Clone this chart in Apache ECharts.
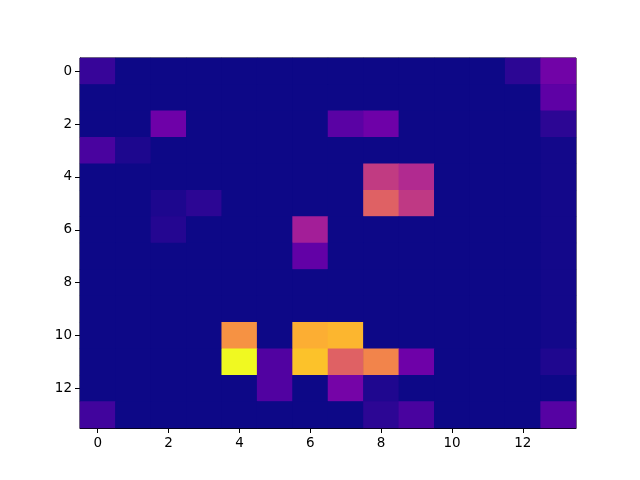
<!DOCTYPE html>
<html>
<head>
<meta charset="utf-8">
<script src="https://cdn.jsdelivr.net/npm/echarts@6/dist/echarts.min.js"></script>
<style>html,body{margin:0;padding:0;background:#fff;}#chart{width:640px;height:480px;}</style>
</head>
<body>
<div id="chart"></div>
<script>
var xCategories = ['0','1','2','3','4','5','6','7','8','9','10','11','12','13'];
var yCategories = ['0','1','2','3','4','5','6','7','8','9','10','11','12','13'];
// values[row][col], normalized 0..1
var row0  = [0.08,0,0,0,0,0,0,0,0,0,0,0,0.06,0.22];
var row1  = [0,0,0,0,0,0,0,0,0,0,0,0,0,0.17];
var row2  = [0,0,0.21,0,0,0,0,0.16,0.21,0,0,0,0,0.06];
var row3  = [0.12,0.03,0,0,0,0,0,0,0,0,0,0,0,0.012];
var row4  = [0,0,0,0,0,0,0,0,0.46,0.40,0,0,0,0.012];
var row5  = [0,0,0.03,0.06,0,0,0,0,0.59,0.45,0,0,0,0.012];
var row6  = [0,0,0.045,0,0,0,0.36,0,0,0,0,0,0,0.012];
var row7  = [0,0,0,0,0,0,0.18,0,0,0,0,0,0,0.012];
var row8  = [0,0,0,0,0,0,0,0,0,0,0,0,0,0.012];
var row9  = [0,0,0,0,0,0,0,0,0,0,0,0,0,0.012];
var row10 = [0,0,0,0,0.74,0,0.82,0.84,0,0,0,0,0,0.012];
var row11 = [0,0,0,0,1.0,0.14,0.87,0.59,0.70,0.21,0,0,0,0.035];
var row12 = [0,0,0,0,0,0.14,0,0.23,0.035,0,0,0,0,0];
var row13 = [0.10,0,0,0,0,0,0,0,0.06,0.12,0,0,0,0.15];
var values = [row0,row1,row2,row3,row4,row5,row6,row7,row8,row9,row10,row11,row12,row13];
var tickLabels = ['0','2','4','6','8','10','12'];

var data = [];
for (var r = 0; r < values.length; r++) {
  for (var c = 0; c < values[r].length; c++) {
    data.push([c, r, values[r][c]]);
  }
}
var showTick = function (i) { return tickLabels.indexOf(String(i)) >= 0; };
var chart = echarts.init(document.getElementById('chart'), null, {renderer: 'canvas'});
var axisCommon = {
  type: 'category',
  boundaryGap: true,
  axisLine: {show: true, lineStyle: {color: '#000', width: 1}},
  axisTick: {show: true, alignWithLabel: true, length: 5, interval: showTick, lineStyle: {color: '#000'}},
  axisLabel: {interval: showTick, color: '#000', fontFamily: 'DejaVu Sans', fontSize: 13.5, margin: 8},
  splitLine: {show: false}
};
chart.setOption({
  animation: false,
  backgroundColor: '#fff',
  grid: {left: 80, top: 58, width: 496, height: 370, show: true, borderColor: '#000', borderWidth: 1, backgroundColor: '#0d0887'},
  xAxis: Object.assign({}, axisCommon, {data: xCategories, position: 'bottom'}),
  yAxis: Object.assign({}, axisCommon, {data: yCategories, inverse: true, position: 'left'}),
  visualMap: {
    show: false, min: 0, max: 1, dimension: 2,
    inRange: {color: ['#0d0887','#41049d','#6a00a8','#8f0da4','#b12a90','#cc4778','#e16462','#f2844b','#fca636','#fcce25','#f0f921']}
  },
  series: [{
    type: 'heatmap',
    data: data,
    itemStyle: {borderWidth: 0},
    emphasis: {disabled: true}
  }]
});
</script>
</body>
</html>
